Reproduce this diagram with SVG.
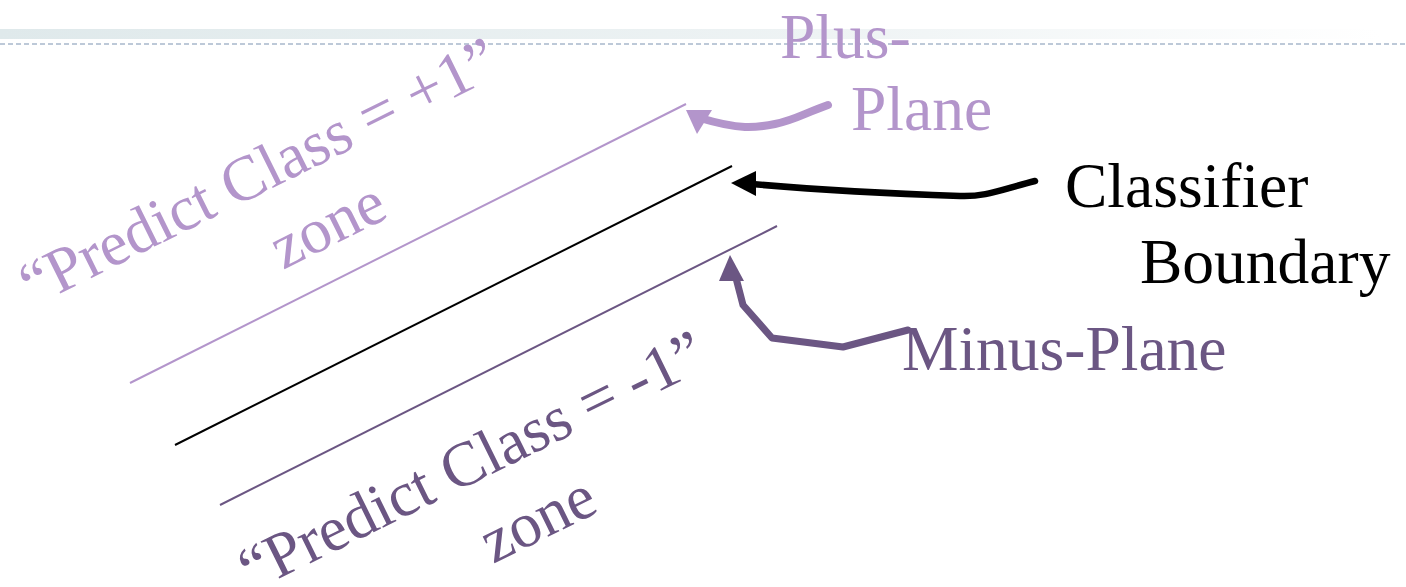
<svg xmlns="http://www.w3.org/2000/svg" width="1406" height="587" viewBox="0 0 1406 587">
<defs>
<linearGradient id="band" x1="0" y1="0" x2="1" y2="0">
<stop offset="0" stop-color="#dfe9eb"/>
<stop offset="0.6" stop-color="#eef3f4"/>
<stop offset="1" stop-color="#ffffff"/>
</linearGradient>
</defs>
<style>
.t{font-family:"Liberation Serif","Times New Roman",serif;font-size:63.5px}
.r{font-size:63.5px}
.lp{fill:#b395cb}
.dp{fill:#6b5683}
.bk{fill:#000}
.arr{fill:none;stroke-linecap:round;stroke-linejoin:round}
</style>
<rect width="1406" height="587" fill="#fff"/>
<g id="header">
<rect x="0" y="29" width="1380" height="10" fill="url(#band)"/>
<line x1="0" y1="44" x2="1406" y2="44" stroke="#a8b8cb" stroke-width="1.6" stroke-dasharray="5 3"/>
</g>
<g id="plus-plane"><line x1="130" y1="383" x2="686" y2="104" stroke="#b395cb" stroke-width="2"/></g>
<g id="classifier-boundary"><line x1="175" y1="445" x2="732" y2="166" stroke="#000" stroke-width="2"/></g>
<g id="minus-plane"><line x1="220" y1="505" x2="777" y2="226" stroke="#6b5683" stroke-width="2"/></g>
<g id="connectors">
<path class="arr" d="M828,105 C805,113 795,120 775,124 C755,128 740,130 700,118" stroke="#b395cb" stroke-width="8"/>
<polygon points="686,110 712,110 697,134" fill="#b395cb"/>
<path class="arr" d="M1035,181 C1000,190 985,197 960,196 C900,194 830,191 752,184" stroke="#000" stroke-width="6.5"/>
<polygon points="731,183 756,171 756,196" fill="#000"/>
<path class="arr" d="M908,330 L843,347 L772,338 L743,305 L736,278" stroke="#6b5683" stroke-width="7"/>
<polygon points="730,255 719,281 744,281" fill="#6b5683"/>
</g>
<g id="plus-label"><text class="t lp" x="780" y="58">Plus-</text><text class="t lp" x="851" y="130">Plane</text></g>
<g id="classifier-label"><text class="t bk" x="1065" y="207">Classifier</text><text class="t bk" x="1140" y="283">Boundary</text></g>
<g id="minus-label"><text class="t dp" x="902" y="370">Minus-Plane</text></g>
<g id="plus-zone">
<text class="t lp" transform="translate(33,307) rotate(-26.4)">“Predict Class = +1”</text>
<text class="t lp" transform="translate(283,270) rotate(-26.4)">zone</text>
</g>
<g id="minus-zone">
<text class="t dp" transform="translate(252,592) rotate(-26.2)">“Predict Class = -1”</text>
<text class="t dp" transform="translate(493,564) rotate(-26.2)">zone</text>
</g>
</svg>
